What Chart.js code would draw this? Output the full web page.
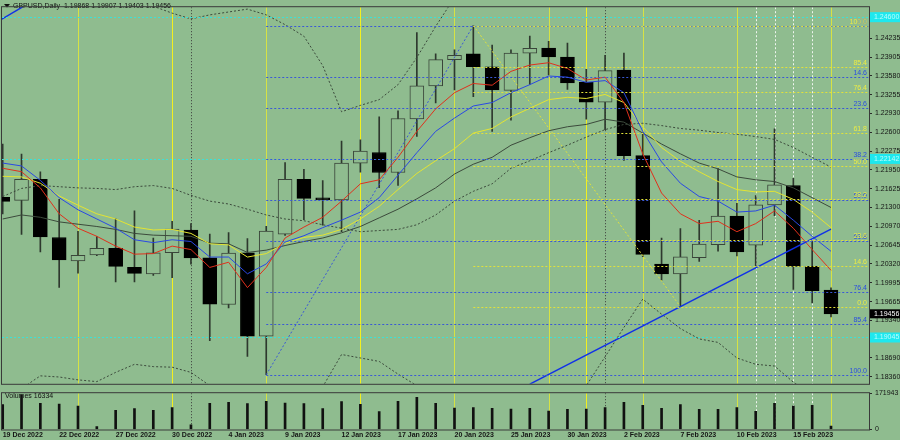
<!DOCTYPE html>
<html>
<head>
<meta charset="utf-8">
<script src="https://cdn.jsdelivr.net/npm/chart.js@4.4.1/dist/chart.umd.min.js"></script>
<style>
  html, body { margin: 0; padding: 0; background: #8fbc8f; }
  #wrap { position: relative; width: 900px; height: 440px; overflow: hidden; background: #8fbc8f; }
  canvas { position: absolute; left: 0; }
  #price { top: 0; }
  #vol { top: 386px; }
</style>
</head>
<body>
<div id="wrap">
  <canvas id="price" width="900" height="391"></canvas>
  <canvas id="vol" width="900" height="54"></canvas>
</div>
<script>
  "use strict";

  // GBPUSD daily bars
  var dates = ['19 Dec 2022','20 Dec 2022','21 Dec 2022','22 Dec 2022','23 Dec 2022','26 Dec 2022','27 Dec 2022','28 Dec 2022','29 Dec 2022','30 Dec 2022',
    '2 Jan 2023','3 Jan 2023','4 Jan 2023','5 Jan 2023','6 Jan 2023','9 Jan 2023','10 Jan 2023','11 Jan 2023','12 Jan 2023','13 Jan 2023',
    '16 Jan 2023','17 Jan 2023','18 Jan 2023','19 Jan 2023','20 Jan 2023','23 Jan 2023','24 Jan 2023','25 Jan 2023','26 Jan 2023','27 Jan 2023',
    '30 Jan 2023','31 Jan 2023','1 Feb 2023','2 Feb 2023','3 Feb 2023','6 Feb 2023','7 Feb 2023','8 Feb 2023','9 Feb 2023','10 Feb 2023',
    '13 Feb 2023','14 Feb 2023','15 Feb 2023','16 Feb 2023','17 Feb 2023'];

  var open = [1.21474,1.21423,1.21789,1.20779,1.20375,1.20476,1.20593,1.20262,1.20149,1.20514,
    1.20907,1.20425,1.19617,1.20514,1.19067,1.20839,1.21789,1.21465,1.21432,1.22068,
    1.22253,1.21907,1.22837,1.23410,1.23864,1.23965,1.23741,1.23331,1.23977,1.24066,
    1.23910,1.23472,1.23124,1.23684,1.22198,1.20317,1.20149,1.20430,1.20654,1.21149,
    1.20644,1.21344,1.21681,1.20279,1.19868];
  var high = [1.22400,1.22226,1.21917,1.21440,1.20885,1.20796,1.21104,1.21243,1.20767,1.21058,
    1.21019,1.20839,1.20863,1.20762,1.20974,1.22080,1.21962,1.21765,1.22450,1.22472,
    1.22871,1.22977,1.24331,1.23965,1.24033,1.24454,1.24117,1.24033,1.24273,1.24179,
    1.24151,1.23696,1.23937,1.23977,1.22590,1.20767,1.20935,1.21075,1.21974,1.21373,
    1.21508,1.22664,1.21806,1.20721,1.19907];
  var low = [1.21188,1.20834,1.20531,1.19913,1.20161,1.20464,1.20009,1.20009,1.20122,1.20082,
    1.20317,1.18988,1.19560,1.18718,1.18400,1.20817,1.21087,1.20991,1.20880,1.21912,
    1.21642,1.21681,1.22534,1.23112,1.23337,1.23220,1.22619,1.22816,1.23432,1.23600,
    1.23348,1.22832,1.22647,1.22114,1.20447,1.20038,1.19580,1.20363,1.20543,1.20459,
    1.20290,1.21159,1.19880,1.19644,1.19403];
  var close = [1.21407,1.21789,1.20789,1.20391,1.20469,1.20593,1.20279,1.20156,1.20514,1.20923,
    1.20425,1.19622,1.20509,1.19067,1.20890,1.21789,1.21457,1.21432,1.22068,1.22277,
    1.21907,1.22843,1.23410,1.23864,1.23937,1.23741,1.23337,1.23977,1.24061,1.23910,
    1.23460,1.23124,1.23674,1.22198,1.20486,1.20149,1.20442,1.20666,1.21149,1.20531,
    1.21344,1.21693,1.20279,1.19858,1.19456];
  var volume = [118300,163900,124100,120800,111400,14200,90600,98700,91200,103800,
    22100,124300,129100,122800,133900,125700,122600,98900,132400,119300,
    84700,133800,152900,124200,101900,103600,100200,96800,100400,87400,
    95600,97100,103700,128900,114800,100300,117900,95700,95900,103900,
    86200,124100,111300,114700,16334];

  // moving averages (red fast .. gray slow) and the dotted bands
  var maRed = [1.2198,1.2192,1.2164,1.2119,1.2094,1.2080,1.2063,1.2049,1.2050,1.2063,
    1.2057,1.2026,1.2035,1.1991,1.2026,1.2077,1.2096,1.2113,1.2141,1.2171,
    1.2178,1.2217,1.2262,1.2301,1.2329,1.2345,1.2342,1.2366,1.2377,1.2381,
    1.2371,1.2351,1.2356,1.2312,1.2223,1.2155,1.2119,1.2102,1.2106,1.2088,
    1.2102,1.2124,1.2094,1.2057,1.2021];
  var maBlue = [1.2207,1.2202,1.2177,1.2147,1.2126,1.2110,1.2094,1.2074,1.2069,1.2074,
    1.2071,1.2044,1.2044,1.2015,1.2032,1.2070,1.2081,1.2095,1.2108,1.2122,
    1.2147,1.2186,1.2225,1.2262,1.2285,1.2306,1.2312,1.2329,1.2343,1.2358,
    1.2356,1.2347,1.2350,1.2329,1.2262,1.2209,1.2172,1.2149,1.2141,1.2122,
    1.2124,1.2134,1.2108,1.2080,1.2054];
  var maYellow = [1.2184,1.2183,1.2172,1.2150,1.2134,1.2119,1.2110,1.2096,1.2091,1.2092,
    1.2085,1.2067,1.2065,1.2044,1.2050,1.2068,1.2078,1.2082,1.2092,1.2110,
    1.2132,1.2161,1.2189,1.2211,1.2232,1.2259,1.2267,1.2287,1.2302,1.2317,
    1.2321,1.2319,1.2326,1.2312,1.2270,1.2234,1.2210,1.2192,1.2175,1.2161,
    1.2157,1.2158,1.2144,1.2122,1.2095];
  var maGray = [1.2110,1.2117,1.2113,1.2105,1.2101,1.2097,1.2092,1.2085,1.2082,1.2081,
    1.2080,1.2068,1.2067,1.2052,1.2056,1.2064,1.2071,1.2077,1.2086,1.2097,
    1.2112,1.2127,1.2145,1.2164,1.2188,1.2205,1.2217,1.2238,1.2251,1.2263,
    1.2270,1.2274,1.2283,1.2278,1.2259,1.2240,1.2223,1.2207,1.2197,1.2183,
    1.2178,1.2175,1.2164,1.2147,1.2130];
  var bandUp = [1.2501,1.2491,1.2494,1.2498,1.2498,1.2494,1.2489,1.2484,1.2479,1.2467,
    1.2457,1.2464,1.2469,1.2474,1.2464,1.2447,1.2427,1.2376,1.2296,1.2307,
    1.2317,1.2343,1.2390,1.2444,1.2494,1.2534,1.2565,1.2622,1.2648,1.2658,
    1.2682,1.2679,1.2659,1.2626,1.2581,1.2599,1.2614,1.2626,1.2624,1.2645,
    1.2648,1.2641,1.2641,1.2627,1.2609];
  var bandMid = [1.2149,1.2163,1.2168,1.2166,1.2164,1.2163,1.2161,1.2166,1.2168,1.2163,
    1.2151,1.2141,1.2136,1.2127,1.2117,1.2110,1.2107,1.2100,1.2094,1.2088,
    1.2090,1.2092,1.2100,1.2117,1.2141,1.2158,1.2171,1.2198,1.2211,1.2225,
    1.2238,1.2252,1.2265,1.2274,1.2276,1.2272,1.2267,1.2264,1.2260,1.2257,
    1.2253,1.2248,1.2234,1.2217,1.2200];
  var bandLow = [1.1799,1.1816,1.1838,1.1836,1.1831,1.1828,1.1844,1.1858,1.1854,1.1853,
    1.1844,1.1821,1.1807,1.1799,1.1791,1.1799,1.1811,1.1819,1.1875,1.1869,
    1.1863,1.1841,1.1821,1.1804,1.1791,1.1782,1.1777,1.1774,1.1774,1.1782,
    1.1794,1.1821,1.1871,1.1922,1.1971,1.1945,1.1920,1.1902,1.1896,1.1869,
    1.1858,1.1855,1.1827,1.1807,1.1791];

  var priceTicks = [1.24235,1.23905,1.23580,1.23255,1.22930,1.22600,1.22275,1.21950,1.21625,
    1.21300,1.20970,1.20645,1.20320,1.19995,1.19665,1.19340,1.18690,1.18360];
  var volTicks = [0, 171943];
  var labelBars = [0,3,6,9,12,15,18,21,24,27,30,33,36,39,42];

  var fibLevels = [0, 14.6, 23.6, 38.2, 50, 61.8, 76.4, 85.4, 100];
  var alertLevels = [1.24600, 1.22142, 1.19045];
  var trendMain = [{x: 28, y: 1.18237}, {x: 44, y: 1.20923}];
  var trendTop = [{x: -0.05, y: 1.24566}, {x: 1.06, y: 1.24778}];

  var weekLines = [4, 9, 14, 19, 24, 29, 31, 34, 39, 44];
  var brightLines = [9, 19, 31];
  var monthLines = [10, 32];
  var whiteLines = [40, 41, 42, 43];

  var BG = '#8fbc8f';
  var FONT = '"Liberation Sans", Arial, sans-serif';
  var xMin = -0.0372, xMax = 46.019;
  var fmt = function(v) { return Number(v).toFixed(5); };
  var pts = function(arr) { return arr.map(function(v, i) { return {x: i, y: v}; }); };

  var bullish = close.map(function(c, i) { return c >= open[i]; });

  //竖线：周五黄线、月分隔虚线、白色点线
  var drawSeparators = function(chart) {
    var ctx = chart.ctx, a = chart.chartArea, xs = chart.scales.x;
    var vline = function(i, color, dash) {
      var x = Math.round(xs.getPixelForValue(i)) + 0.5;
      ctx.strokeStyle = color;
      ctx.setLineDash(dash);
      ctx.beginPath(); ctx.moveTo(x, a.top); ctx.lineTo(x, a.bottom); ctx.stroke();
    };
    ctx.save();
    ctx.beginPath(); ctx.rect(a.left, a.top, a.right - a.left, a.bottom - a.top); ctx.clip();
    ctx.lineWidth = 1;
    weekLines.forEach(function(i) { vline(i, brightLines.indexOf(i) >= 0 ? '#f2f020' : '#d6e244', []); });
    monthLines.forEach(function(i) { vline(i, '#3a3a3a', [1, 2]); });
    whiteLines.forEach(function(i) { vline(i, '#eef4ee', [2, 2]); });
    ctx.restore();
  };

  var drawFrame = function(chart) {
    var ctx = chart.ctx, a = chart.chartArea;
    ctx.save();
    ctx.strokeStyle = '#3a3a3a'; ctx.lineWidth = 1; ctx.setLineDash([]);
    ctx.strokeRect(a.left - 0.5, a.top - 0.5, a.right - a.left + 1, a.bottom - a.top + 1);
    ctx.restore();
  };

  var drawFib = function(chart, from, lo, hi, topIsZero, lineColor, textColor) {
    var ctx = chart.ctx, a = chart.chartArea, xs = chart.scales.x, ys = chart.scales.y;
    var x0 = xs.getPixelForValue(from);
    fibLevels.forEach(function(r) {
      var p = topIsZero ? hi - r / 100 * (hi - lo) : lo + r / 100 * (hi - lo);
      var y = Math.round(ys.getPixelForValue(p)) + 0.5;
      ctx.strokeStyle = lineColor;
      ctx.setLineDash([2, 2]);
      ctx.beginPath(); ctx.moveTo(x0, y); ctx.lineTo(a.right, y); ctx.stroke();
      ctx.fillStyle = textColor;
      ctx.fillText(r.toFixed(1), a.right - 2, y - 1);
    });
  };

  var priceOverlay = {
    id: 'priceOverlay',
    beforeDatasetsDraw: function(chart) {
      var ctx = chart.ctx;
      drawSeparators(chart);
      ctx.save();
      ctx.fillStyle = '#111';
      ctx.beginPath(); ctx.moveTo(4, 4); ctx.lineTo(10, 4); ctx.lineTo(7, 7.5); ctx.closePath(); ctx.fill();
      ctx.font = '7px ' + FONT;
      ctx.textBaseline = 'middle';
      ctx.fillText('GBPUSD,Daily  ' + [open[44], high[44], low[44], close[44]].map(fmt).join(' '), 13, 6);
      ctx.restore();
    },
    afterDatasetsDraw: function(chart) {
      var ctx = chart.ctx, a = chart.chartArea, ys = chart.scales.y;
      ctx.save();
      ctx.lineWidth = 1;
      ctx.beginPath(); ctx.rect(a.left, a.top, a.right - a.left, a.bottom - a.top); ctx.clip();
      ctx.setLineDash([2, 2]);
      ctx.strokeStyle = '#3ee0d6';
      alertLevels.forEach(function(p) {
        var y = Math.round(ys.getPixelForValue(p)) + 0.5;
        ctx.beginPath(); ctx.moveTo(a.left, y); ctx.lineTo(a.right, y); ctx.stroke();
      });
      ctx.font = '7px ' + FONT;
      ctx.textAlign = 'right';
      ctx.textBaseline = 'bottom';
      drawFib(chart, 14, low[14], high[25], true, '#3a58d6', '#2a4ee0');
      drawFib(chart, 25, low[36], high[25], false, '#e2e23a', '#ecec44');
      ctx.restore();

      // 右侧价格标记
      ctx.save();
      ctx.font = '7px ' + FONT;
      ctx.textAlign = 'left';
      ctx.textBaseline = 'middle';
      alertLevels.forEach(function(p) {
        var y = ys.getPixelForValue(p);
        ctx.fillStyle = '#1ee8ee'; ctx.fillRect(a.right + 1, y - 5, 31, 10);
        ctx.fillStyle = '#bafcfc'; ctx.fillText(fmt(p), a.right + 5, y);
      });
      var yc = ys.getPixelForValue(close[44]);
      ctx.fillStyle = '#000'; ctx.fillRect(a.right + 1, yc - 4.5, 31, 9);
      ctx.fillStyle = '#fff'; ctx.fillText(fmt(close[44]), a.right + 5, yc);
      ctx.restore();
      drawFrame(chart);
    }
  };

  var volOverlay = {
    id: 'volOverlay',
    beforeDatasetsDraw: function(chart) {
      drawSeparators(chart);
      var ctx = chart.ctx;
      ctx.save();
      ctx.fillStyle = '#111';
      ctx.font = '7px ' + FONT;
      ctx.textBaseline = 'middle';
      ctx.fillText('Volumes ' + volume[volume.length - 1], 5, 10);
      ctx.restore();
    },
    afterDatasetsDraw: function(chart) { drawFrame(chart); }
  };

  var lineSet = function(data, color, order, dash, width) {
    return {
      type: 'line', data: data, borderColor: color, borderWidth: width || 1,
      borderDash: dash || [], pointRadius: 0, tension: 0, fill: false, order: order
    };
  };

  var axisTicks = { color: '#151515', font: { family: FONT, size: 7 }, autoSkip: false };

  new Chart(document.getElementById('price').getContext('2d'), {
    type: 'bar',
    data: {
      datasets: [
        lineSet(trendMain, '#1030e8', 0, [], 1.5),
        lineSet(trendTop, '#1030e8', 0, [], 1.5),
        lineSet(pts(maRed), '#e0301c', 1),
        lineSet(pts(maBlue), '#2a48e4', 2),
        lineSet(pts(maYellow), '#e4e432', 3),
        lineSet(pts(maGray), '#3c4a3c', 4),
        lineSet(pts(bandUp), '#3c4a3c', 5, [2, 2]),
        lineSet(pts(bandMid), '#3c4a3c', 5, [2, 2]),
        lineSet(pts(bandLow), '#3c4a3c', 5, [2, 2]),
        lineSet([{x: 14, y: low[14]}, {x: 25, y: high[25]}], '#3a58d6', 6, [2, 2]),
        lineSet([{x: 25, y: high[25]}, {x: 36, y: low[36]}], '#e2e23a', 6, [2, 2]),
        {
          data: open.map(function(o, i) { return {x: i, y: [o, close[i]]}; }),
          backgroundColor: bullish.map(function(b) { return b ? BG : '#000'; }),
          borderColor: bullish.map(function(b) { return b ? '#3a453a' : '#000'; }),
          borderWidth: 1, borderSkipped: false, barThickness: 14, grouped: false, order: 10
        },
        {
          data: low.map(function(l, i) { return {x: i, y: [l, high[i]]}; }),
          backgroundColor: '#2e382e', barThickness: 1, grouped: false, order: 11
        }
      ]
    },
    options: {
      responsive: false, animation: false, devicePixelRatio: 1,
      layout: { padding: { left: 2, top: 2, right: 0, bottom: 1 } },
      plugins: { legend: { display: false }, tooltip: { enabled: false } },
      scales: {
        x: { type: 'linear', min: xMin, max: xMax, offset: false, display: false },
        y: {
          type: 'linear', position: 'right', min: 1.18242, max: 1.24773,
          afterFit: function(s) { s.width = 31; },
          afterBuildTicks: function(s) { s.ticks = priceTicks.map(function(v) { return {value: v}; }); },
          ticks: Object.assign({ padding: 3, callback: fmt }, axisTicks),
          grid: { drawOnChartArea: false, tickLength: 3, color: '#2a2a2a' },
          border: { color: '#2a2a2a' }
        }
      }
    },
    plugins: [priceOverlay]
  });

  new Chart(document.getElementById('vol').getContext('2d'), {
    type: 'bar',
    data: {
      datasets: [{
        data: pts(volume), backgroundColor: '#111', barThickness: 2, grouped: false
      }]
    },
    options: {
      responsive: false, animation: false, devicePixelRatio: 1,
      layout: { padding: { left: 2, top: 6, right: 0, bottom: 0 } },
      plugins: { legend: { display: false }, tooltip: { enabled: false } },
      scales: {
        x: {
          type: 'linear', min: xMin, max: xMax, offset: false, position: 'bottom',
          afterFit: function(s) { s.height = 10.5; },
          afterBuildTicks: function(s) { s.ticks = labelBars.map(function(v) { return {value: v}; }); },
          ticks: Object.assign({}, axisTicks, { align: 'start', maxRotation: 0, padding: 1,
            font: { family: FONT, size: 7, weight: 'bold' },
            callback: function(v) { return dates[v]; } }),
          grid: { display: false, drawTicks: false },
          border: { display: false }
        },
        y: {
          type: 'linear', position: 'right', min: 0, max: volTicks[1],
          afterFit: function(s) { s.width = 31; },
          afterBuildTicks: function(s) { s.ticks = volTicks.map(function(v) { return {value: v}; }); },
          ticks: Object.assign({ padding: 3, callback: function(v) { return String(v); } }, axisTicks),
          grid: { drawOnChartArea: false, tickLength: 3, color: '#2a2a2a' },
          border: { color: '#2a2a2a' }
        }
      }
    },
    plugins: [volOverlay]
  });
</script>
</body>
</html>
